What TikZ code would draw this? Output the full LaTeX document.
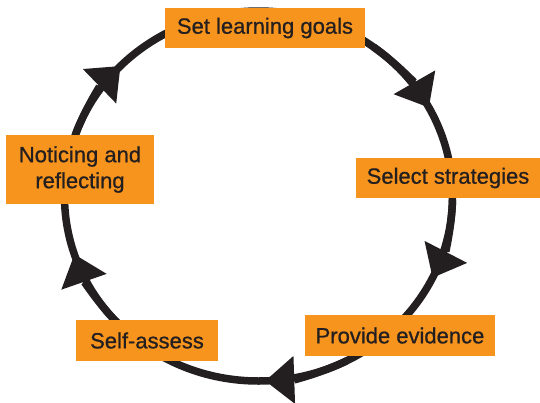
\documentclass[tikz,border=0pt]{standalone}
\usepackage{fontspec}
\setmainfont{Liberation Sans}
\newfontfamily\lblfont[FakeBold=0.8]{Liberation Sans}
\usetikzlibrary{arrows.meta}
\definecolor{ink}{HTML}{231F20}
\definecolor{orng}{HTML}{F7941D}
\begin{document}
\begin{tikzpicture}[x=1pt,y=-1pt,
  lbl/.style={fill=orng, text=ink, inner sep=0pt, font=\lblfont\fontsize{22}{26}\selectfont, align=center},
  ring/.style={draw=ink, line width=7.5pt},
  tipline/.style={ring, -{Triangle[length=29pt,width=48pt,line width=0pt]}}]
\useasboundingbox (0,0) rectangle (540,402);
\coordinate (C) at (258.5,196);
\draw[ring] (C) ellipse [x radius=194, y radius=185];
\foreach \t in {224.6, 331.4, 386.2, 448, 521.6}{
  \pgfmathsetmacro{\s}{\t-25}
  \draw[tipline] (C) ++(\s:194 and 185) arc[start angle=\s, end angle=\t, x radius=194, y radius=185];
}
\node[lbl, minimum width=200pt, minimum height=40pt] (goals) at (265,28) {Set learning goals};
\node[lbl, minimum width=184pt, minimum height=40pt] (strat) at (448,178) {Select strategies};
\node[lbl, minimum width=190pt, minimum height=41pt] (evid) at (400,335.5) {Provide evidence};
\node[lbl, minimum width=142pt, minimum height=41pt] (self) at (147,340.5) {Self-assess};
\node[lbl, minimum width=148pt, minimum height=69pt] (notice) at (80,169.5) {Noticing and\\reflecting};
\end{tikzpicture}
\end{document}
